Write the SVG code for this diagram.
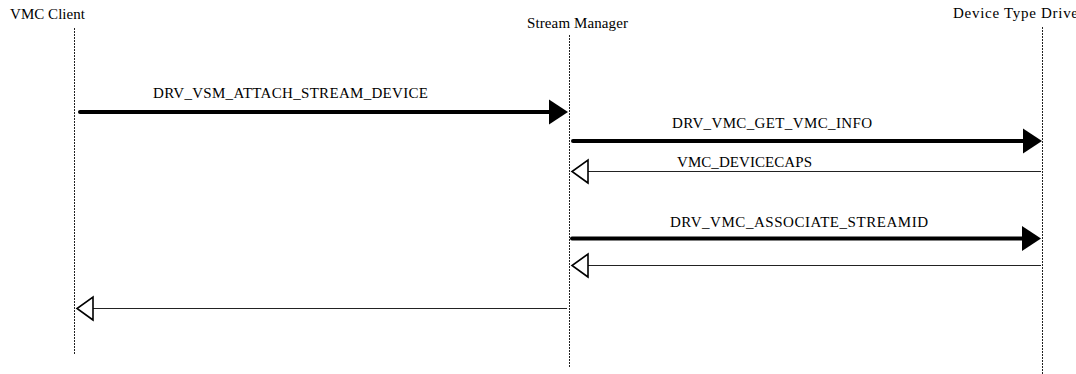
<svg xmlns="http://www.w3.org/2000/svg" width="1076" height="374" viewBox="0 0 1076 374">
  <style>
    text { font-family: "Liberation Serif", "Times New Roman", serif; font-size: 15px; fill: #000; }
    .life { stroke: #222; stroke-width: 1; stroke-dasharray: 2 1; fill: none; }
    .call { stroke: #000; stroke-width: 4; stroke-linecap: round; fill: none; }
    .ret { stroke: #222; stroke-width: 1; fill: none; }
  </style>
  <defs>
    <marker id="solid" markerUnits="userSpaceOnUse" markerWidth="20" markerHeight="26" refX="0" refY="12.5" orient="auto" overflow="visible">
      <path d="M0,0 L19,12.5 L0,25 z" fill="#000"/>
    </marker>
    <marker id="open" markerUnits="userSpaceOnUse" markerWidth="18" markerHeight="24" refX="0" refY="11.5" orient="auto" overflow="visible">
      <path d="M0,0 L16,11.5 L0,23 z" fill="#fff" stroke="#000" stroke-width="1.6" stroke-linejoin="miter"/>
    </marker>
  </defs>

  <g id="node-vmc-client">
    <text x="10" y="19" textLength="75" lengthAdjust="spacing">VMC Client</text>
    <line class="life" x1="74.5" y1="28" x2="74.5" y2="354"/>
  </g>
  <g id="node-stream-manager">
    <text x="527" y="28" textLength="101" lengthAdjust="spacing">Stream Manager</text>
    <line class="life" x1="569.5" y1="35" x2="569.5" y2="368"/>
  </g>
  <g id="node-device-type-driver">
    <text x="953" y="18" textLength="125" lengthAdjust="spacing">Device Type Drive</text>
    <line class="life" x1="1042.5" y1="27" x2="1042.5" y2="374"/>
  </g>

  <g id="connectors">
    <line class="call" x1="80" y1="112" x2="549" y2="112" marker-end="url(#solid)"/>
    <text x="153" y="98" textLength="275" lengthAdjust="spacing">DRV_VSM_ATTACH_STREAM_DEVICE</text>

    <line class="call" x1="573" y1="141" x2="1023" y2="141" marker-end="url(#solid)"/>
    <text x="672" y="128" textLength="200" lengthAdjust="spacing">DRV_VMC_GET_VMC_INFO</text>

    <line class="ret" x1="1041" y1="171.5" x2="588" y2="171.5" marker-end="url(#open)"/>
    <text x="677" y="167" textLength="135" lengthAdjust="spacing">VMC_DEVICECAPS</text>

    <line class="call" x1="572" y1="238.5" x2="1022" y2="238.5" marker-end="url(#solid)"/>
    <text x="670" y="227" textLength="258" lengthAdjust="spacing">DRV_VMC_ASSOCIATE_STREAMID</text>

    <line class="ret" x1="1041" y1="265.5" x2="588" y2="265.5" marker-end="url(#open)"/>

    <line class="ret" x1="567" y1="308.5" x2="93" y2="308.5" marker-end="url(#open)"/>
  </g>
</svg>
